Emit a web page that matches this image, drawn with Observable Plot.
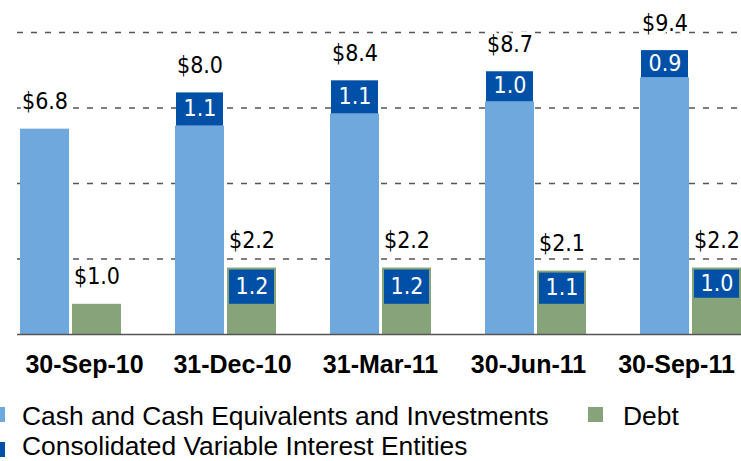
<!DOCTYPE html>
<html>
<head>
<meta charset="utf-8">
<script src="https://cdn.jsdelivr.net/npm/d3@7"></script>
<script src="https://cdn.jsdelivr.net/npm/@observablehq/plot@0.6"></script>
<style>
  html, body { margin: 0; padding: 0; background: #fff; overflow: hidden; }
  #page { position: relative; width: 741px; height: 461px; overflow: hidden; }
  .legend { position: absolute; font-family: "Liberation Sans", Arial, sans-serif; font-size: 26.4px; line-height: 30px; color: #000; white-space: nowrap; }
  .sw { position: absolute; width: 15px; height: 15px; }
</style>
</head>
<body>
<div id="page">
  <div id="chart"></div>
  <div id="axis"></div>
  <div id="legend"></div>
</div>
<script>
const dates = ["30-Sep-10", "31-Dec-10", "31-Mar-11", "30-Jun-11", "30-Sep-11"];
const cashBase = [6.8, 6.9, 7.3, 7.7, 8.5];
const cashVIE = [0, 1.1, 1.1, 1.0, 0.9];
const cashTotal = [6.8, 8.0, 8.4, 8.7, 9.4];
const debtBase = [1.0, 1.0, 1.0, 1.0, 1.2];
const debtVIE = [0, 1.2, 1.2, 1.1, 1.0];
const debtTotal = [1.0, 2.2, 2.2, 2.1, 2.2];
const gridTicks = [2.5, 5, 7.5, 10];
const seriesNames = ["Cash and Cash Equivalents and Investments", "Debt", "Consolidated Variable Interest Entities"];

const colLight = "#6fa8dc", colDark = "#0050a8", colGreen = "#87a37a";

const rows = dates.map((d, i) => ({
  date: d,
  cashBase: cashBase[i], cashVIE: cashVIE[i], cashTotal: cashTotal[i],
  debtBase: debtBase[i], debtVIE: debtVIE[i], debtTotal: debtTotal[i]
}));
const cashV = rows.filter(r => r.cashVIE > 0);
const debtV = rows.filter(r => r.debtVIE > 0);

const valueFont = "'Liberation Sans Narrow', 'DejaVu Sans Condensed', 'Arial Narrow', sans-serif";

const chart = Plot.plot({
  width: 741, height: 340,
  marginTop: 32, marginBottom: 6, marginLeft: 17, marginRight: 0,
  x: { domain: dates, range: [18, 744], paddingInner: 0.346, paddingOuter: 0, axis: null },
  y: { domain: [0, 10], axis: null },
  marks: [
    Plot.ruleY(gridTicks, { stroke: "#555", strokeWidth: 1.4, strokeDasharray: "6,8" }),
    // cash bars
    Plot.barY(rows, { x: "date", y1: 0, y2: "cashBase", fill: colLight, insetRight: 52 }),
    Plot.barY(cashV, { x: "date", y1: "cashBase", y2: d => d.cashBase + d.cashVIE, fill: colDark, insetLeft: 1, insetRight: 53 }),
    // debt bars
    Plot.barY(rows, { x: "date", y1: 0, y2: d => d.debtBase + d.debtVIE, fill: colGreen, insetLeft: 52 }),
    Plot.barY(debtV, { x: "date", y1: "debtBase", y2: d => d.debtBase + d.debtVIE, fill: colDark, insetLeft: 54, insetRight: 2, insetTop: 2 }),
    Plot.ruleY([0], { stroke: "#555", strokeWidth: 1.5 }),
    // total labels
    Plot.text(rows, { x: "date", y: "cashTotal", text: d => "$" + d.cashTotal.toFixed(1), dx: -26, dy: -20, lineAnchor: "bottom",
      fontFamily: valueFont, fontSize: 23, fill: "#000", stroke: "white", strokeWidth: 6, paintOrder: "stroke" }),
    Plot.text(rows, { x: "date", y: "debtTotal", text: d => "$" + d.debtTotal.toFixed(1), dx: 26, dy: -20, lineAnchor: "bottom",
      fontFamily: valueFont, fontSize: 23, fill: "#000", stroke: "white", strokeWidth: 6, paintOrder: "stroke" }),
    // VIE labels
    Plot.text(cashV, { x: "date", y: d => d.cashBase + d.cashVIE / 2, text: d => d.cashVIE.toFixed(1), dx: -26, dy: -1,
      fontFamily: valueFont, fontSize: 23, fill: "white" }),
    Plot.text(debtV, { x: "date", y: d => d.debtBase + d.debtVIE / 2, text: d => d.debtVIE.toFixed(1), dx: 26, dy: 0,
      fontFamily: valueFont, fontSize: 23, fill: "white" })
  ]
});
document.getElementById("chart").appendChild(chart);

const axis = Plot.plot({
  width: 741, height: 45,
  marginTop: 0, marginBottom: 0, marginLeft: 0, marginRight: 0,
  x: { type: "point", domain: dates, range: [84, 676], padding: 0, axis: null },
  marks: [
    Plot.text(dates, { x: d => d, frameAnchor: "bottom", lineAnchor: "bottom", dy: -13,
      fontFamily: "'Liberation Sans', Arial, sans-serif", fontSize: 25, fontWeight: "bold", fill: "#000" })
  ]
});
document.getElementById("axis").appendChild(axis);

// legend
const leg = document.getElementById("legend");
const items = [
  { name: seriesNames[0], color: colLight, sx: -10, sy: 407, tx: 22, ty: 401 },
  { name: seriesNames[1], color: colGreen, sx: 588, sy: 407, tx: 623, ty: 401 },
  { name: seriesNames[2], color: colDark, sx: -10, sy: 442, tx: 22, ty: 431 }
];
items.forEach(it => {
  const s = document.createElement("div");
  s.className = "sw"; s.style.left = it.sx + "px"; s.style.top = it.sy + "px"; s.style.background = it.color;
  leg.appendChild(s);
  const t = document.createElement("div");
  t.className = "legend"; t.style.left = it.tx + "px"; t.style.top = it.ty + "px"; t.textContent = it.name;
  leg.appendChild(t);
});
</script>
</body>
</html>
